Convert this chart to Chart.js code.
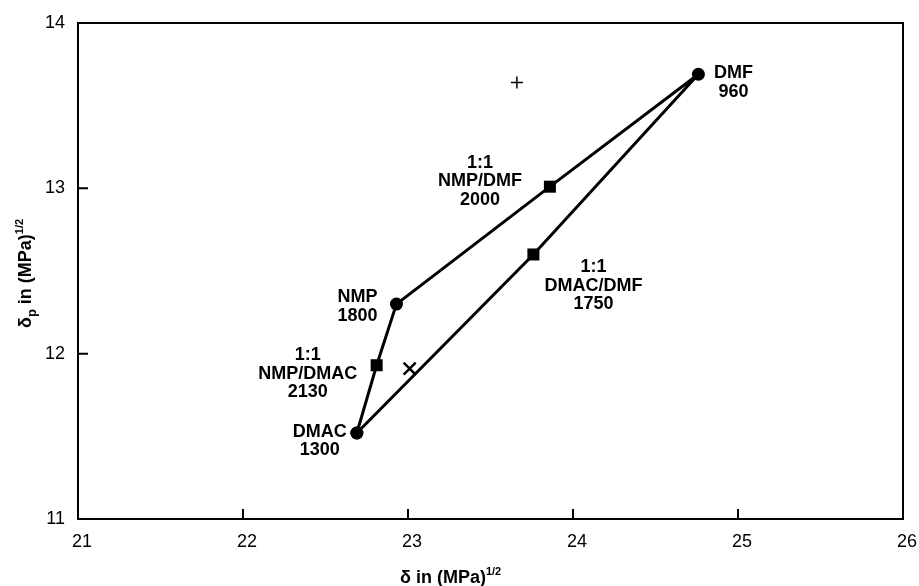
<!DOCTYPE html>
<html>
<head>
<meta charset="utf-8">
<script src="https://cdn.jsdelivr.net/npm/chart.js@4.4.0/dist/chart.umd.min.js"></script>
<style>
  html, body { margin: 0; padding: 0; background: #fff; }
</style>
</head>
<body>
<canvas id="chart" width="919" height="586"></canvas>
<script>
const solvents = ['DMAC', 'NMP/DMAC', 'NMP', 'NMP/DMF', 'DMF', 'DMAC/DMF'];
const ratios = ['', '1:1', '', '1:1', '', '1:1'];
const deltaTotal = [22.69, 22.81, 22.93, 23.86, 24.76, 23.76];
const deltaPolar = [11.52, 11.93, 12.30, 13.01, 13.69, 12.60];
const values = [1300, 2130, 1800, 2000, 960, 1750];
const pathOrder = [0, 1, 2, 3, 4, 5, 0];
const plusPoint = [{ x: 23.66, y: 13.64 }];
const xMarkPoint = [{ x: 23.01, y: 11.91 }];
const xTicks = [21, 22, 23, 24, 25, 26];
const yTicks = [11, 12, 13, 14];

// label placement relative to each point: [dx, dy of first line]
const labelOffsets = [[-37, -1], [-69, -10], [-39, -7], [-70, -24], [35, -1], [60, 13]];
const LINE_H = 18.5;
const FONT = '"Liberation Sans", Arial, sans-serif';

const pathData = pathOrder.map(i => ({ x: deltaTotal[i], y: deltaPolar[i] }));
const isMix = i => ratios[pathOrder[i]] !== '';

function drawRich(ctx, parts, x, y) {
    let cx = x;
    parts.forEach(p => {
        ctx.font = p.font;
        ctx.fillText(p.t, cx, y + (p.dy || 0));
        cx += ctx.measureText(p.t).width;
    });
}

const framePlugin = {
    id: 'frame',
    afterDraw(chart) {
        const ctx = chart.ctx;
        const a = chart.chartArea;
        const xs = chart.scales.x, ys = chart.scales.y;
        ctx.save();
        ctx.strokeStyle = '#000';
        ctx.lineWidth = 2;
        ctx.strokeRect(a.left, a.top, a.right - a.left, a.bottom - a.top);
        ctx.beginPath();
        xTicks.slice(1, -1).forEach(v => {
            const px = xs.getPixelForValue(v);
            ctx.moveTo(px, a.bottom);
            ctx.lineTo(px, a.bottom - 10);
        });
        yTicks.slice(1, -1).forEach(v => {
            const py = ys.getPixelForValue(v);
            ctx.moveTo(a.left, py);
            ctx.lineTo(a.left + 10, py);
        });
        ctx.stroke();

        // point labels
        const meta = chart.getDatasetMeta(0);
        ctx.fillStyle = '#000';
        ctx.textAlign = 'center';
        ctx.textBaseline = 'middle';
        ctx.font = 'bold 18px ' + FONT;
        solvents.forEach((name, i) => {
            const el = meta.data[pathOrder.indexOf(i)];
            const lines = [];
            if (ratios[i]) lines.push(ratios[i]);
            lines.push(name, String(values[i]));
            const [dx, dy] = labelOffsets[i];
            lines.forEach((t, k) => ctx.fillText(t, el.x + dx, el.y + dy + k * LINE_H));
        });

        // axis titles
        ctx.textAlign = 'left';
        ctx.textBaseline = 'alphabetic';
        drawRich(ctx, [
            { t: 'δ in (MPa)', font: 'bold 18px ' + FONT },
            { t: '1/2', font: 'bold 11px ' + FONT, dy: -8 }
        ], 400, 583);

        ctx.translate(31, 328);
        ctx.rotate(-Math.PI / 2);
        drawRich(ctx, [
            { t: 'δ', font: 'bold 18px ' + FONT },
            { t: 'p', font: 'bold 13px ' + FONT, dy: 5 },
            { t: ' in (MPa)', font: 'bold 18px ' + FONT },
            { t: '1/2', font: 'bold 11px ' + FONT, dy: -8 }
        ], 0, 0);
        ctx.restore();
    }
};

new Chart(document.getElementById('chart'), {
    type: 'scatter',
    data: {
        datasets: [{
            data: pathData,
            showLine: true,
            borderColor: '#000',
            borderWidth: 3,
            backgroundColor: '#000',
            pointStyle: pathData.map((_, i) => isMix(i) ? 'rect' : 'circle'),
            pointRadius: pathData.map((_, i) => isMix(i) ? 8.5 : 6.5),
            pointBorderWidth: 0
        }, {
            data: plusPoint,
            pointStyle: 'cross',
            pointRadius: 6,
            borderColor: '#000',
            pointBorderWidth: 1.5
        }, {
            data: xMarkPoint,
            pointStyle: 'crossRot',
            pointRadius: 8.5,
            borderColor: '#000',
            pointBorderWidth: 2.5
        }]
    },
    options: {
        responsive: false,
        animation: false,
        devicePixelRatio: 1,
        layout: { padding: { top: 23, right: 16, left: 0, bottom: 0 } },
        plugins: { legend: { display: false }, tooltip: { enabled: false } },
        scales: {
            x: {
                type: 'linear',
                min: 21, max: 26,
                afterBuildTicks: s => { s.ticks = xTicks.map(v => ({ value: v })); },
                afterFit: s => { s.height = 67; s.paddingLeft = 0; s.paddingRight = 0; },
                grid: { display: false, drawTicks: false },
                border: { display: false },
                ticks: { color: '#000', font: { family: FONT, size: 18 }, padding: 12, labelOffset: 4, maxRotation: 0 }
            },
            y: {
                type: 'linear',
                min: 11, max: 14,
                afterBuildTicks: s => { s.ticks = yTicks.map(v => ({ value: v })); },
                afterFit: s => { s.width = 78; s.paddingTop = 0; s.paddingBottom = 0; },
                grid: { display: false, drawTicks: false },
                border: { display: false },
                ticks: { color: '#000', font: { family: FONT, size: 18 }, padding: 13 }
            }
        }
    },
    plugins: [framePlugin]
});
</script>
</body>
</html>
